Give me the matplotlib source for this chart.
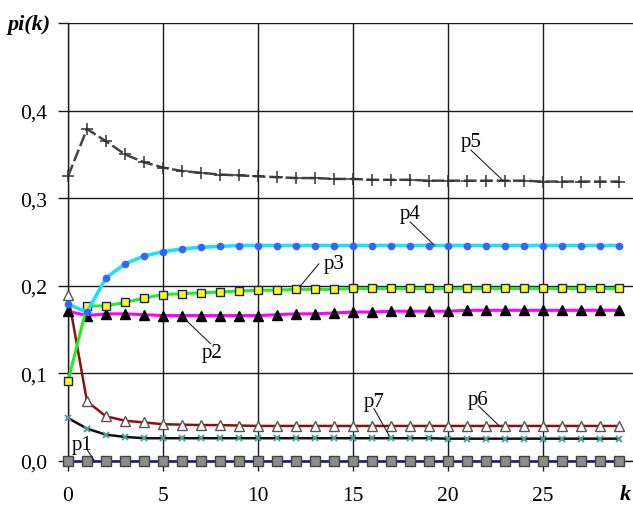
import matplotlib
matplotlib.use("Agg")
import matplotlib.pyplot as plt
import numpy as np

k = list(range(30))
p1 = [0.0] * 30
p2 = [0.171, 0.166, 0.168, 0.168, 0.167, 0.166, 0.166, 0.166, 0.166, 0.166,
      0.166, 0.167, 0.168, 0.168, 0.169, 0.170, 0.170, 0.171, 0.171, 0.171,
      0.171, 0.172, 0.172, 0.172, 0.172, 0.172, 0.172, 0.172, 0.172, 0.172]
p3 = [0.091, 0.177, 0.177, 0.181, 0.186, 0.190, 0.191, 0.192, 0.193, 0.194,
      0.195, 0.195, 0.196, 0.196, 0.196, 0.197, 0.197, 0.197, 0.197, 0.197,
      0.197, 0.197, 0.197, 0.197, 0.197, 0.197, 0.197, 0.197, 0.197, 0.197]
p4 = [0.179, 0.170, 0.209, 0.225, 0.234, 0.239, 0.242, 0.244, 0.245, 0.246,
      0.246, 0.246, 0.246, 0.246, 0.246, 0.246, 0.246, 0.246, 0.246, 0.246,
      0.246, 0.246, 0.246, 0.246, 0.246, 0.246, 0.246, 0.246, 0.246, 0.246]
p5 = [0.325, 0.379, 0.365, 0.350, 0.341, 0.335, 0.331, 0.329, 0.327, 0.326,
      0.325, 0.324, 0.323, 0.323, 0.322, 0.322, 0.321, 0.321, 0.321, 0.320,
      0.320, 0.320, 0.320, 0.320, 0.320, 0.319, 0.319, 0.319, 0.319, 0.319]
p6 = [0.190, 0.068, 0.051, 0.046, 0.044, 0.042, 0.0415, 0.041, 0.041, 0.0405,
      0.040, 0.040, 0.040, 0.040, 0.040, 0.040, 0.040, 0.040, 0.040, 0.040,
      0.040, 0.040, 0.040, 0.040, 0.040, 0.040, 0.040, 0.040, 0.040, 0.040]
p7 = [0.049, 0.037, 0.030, 0.0275, 0.026, 0.026, 0.026, 0.026, 0.026, 0.026,
      0.026, 0.026, 0.026, 0.026, 0.026, 0.026, 0.026, 0.026, 0.026, 0.026,
      0.0255, 0.0255, 0.0255, 0.0255, 0.0255, 0.0255, 0.0255, 0.0255, 0.0255, 0.0255]

xticks = [0, 5, 10, 15, 20, 25]
yticks = [0.0, 0.1, 0.2, 0.3, 0.4, 0.5]
ytick_labels = ["0,0", "0,1", "0,2", "0,3", "0,4", ""]

# annotation: label, text pos (data), arrow point (data)
labels = ["p1", "p2", "p3", "p4", "p5", "p6", "p7"]
label_xy = [(0.75, 0.019), (7.6, 0.124), (14.0, 0.225), (18.0, 0.282), (21.2, 0.365), (21.6, 0.070), (16.1, 0.068)]
label_pt = [(1.4, 0.0), (6.15, 0.162), (12.2, 0.199), (19.3, 0.246), (22.9, 0.320), (22.7, 0.040), (16.9, 0.029)]
label_start = [(1.0, 0.013), (7.5, 0.134), (13.2, 0.225), (18.0, 0.273), (21.2, 0.355), (21.6, 0.063), (16.1, 0.060)]

plt.rcParams['font.family'] = ['Liberation Serif', 'DejaVu Serif']

fig = plt.figure(figsize=(6.33, 5.06), dpi=100)
ax = fig.add_axes([68 / 633, 44 / 506, 1 - 68 / 633, (462 - 24) / 506])

ax.set_xlim(0, (633 - 68) / 19.0)
ax.set_ylim(0, 0.5)
ax.set_xticks(xticks)
ax.set_yticks(yticks)
ax.set_yticklabels(ytick_labels)
ax.set_xticklabels([str(t) for t in xticks])
ax.grid(True, color="#1a1a1a", linewidth=1.0)
ax.set_axisbelow(True)
for s in ["top", "right"]:
    ax.spines[s].set_visible(False)
ax.spines["left"].set_color("#1a1a1a")
ax.spines["left"].set_linewidth(1.0)
ax.spines["bottom"].set_color("#1a1a1a")
ax.spines["bottom"].set_linewidth(1.0)
ax.tick_params(axis="both", direction="out", length=7, width=1.0, color="#1a1a1a",
               labelsize=15.5)
ax.tick_params(axis="x", pad=11)
ax.tick_params(axis="y", pad=8)

ax.plot(k, p1, color="#1a1a6e", lw=1.8, marker="s", ms=6.5, mfc="#8c8c8c", mec="#444444", mew=1, zorder=3, clip_on=False)
ax.plot(k, p7, color="#111111", lw=1.8, marker="x", ms=5, mec="#4aa0a0", mew=1.4, zorder=4, clip_on=False)
ax.plot(k, p6, color="#8b1010", lw=1.8, marker="^", ms=7, mfc="white", mec="#555555", mew=1, zorder=4, clip_on=False)
ax.plot(k, p2, color="#ff00ff", lw=2.2, marker="^", ms=7, mfc="black", mec="black", zorder=5, clip_on=False)
ax.plot(k, p3, color="#22ee22", lw=2.2, marker="s", ms=6, mfc="#ffff00", mec="#1a1a8e", mew=1, zorder=6, clip_on=False)
ax.plot(k, p4, color="#22ddff", lw=2.6, marker="o", ms=4.5, mfc="#3366ff", mec="#3366ff", zorder=6, clip_on=False)
ax.plot(k, p5, color="#444444", lw=1.8, ls=(0, (5, 1.5)), marker="+", ms=9, mec="#333333", mew=1.1, zorder=6, clip_on=False)

for lab, txy, pt, st in zip(labels, label_xy, label_pt, label_start):
    ax.text(txy[0], txy[1], lab, fontsize=15, ha="center", va="center", zorder=8)
    ax.plot([st[0], pt[0]], [st[1], pt[1]], color="#222222", lw=0.8, zorder=8)

fig.text(8 / 633, 1 - 25 / 506, "pi(k)", fontsize=16, style="italic", weight="bold",
         ha="left", va="center")
fig.text(620 / 633, 1 - 495 / 506, "k", fontsize=16, style="italic", weight="bold",
         ha="left", va="center")

fig.savefig("out.png", dpi=100)
